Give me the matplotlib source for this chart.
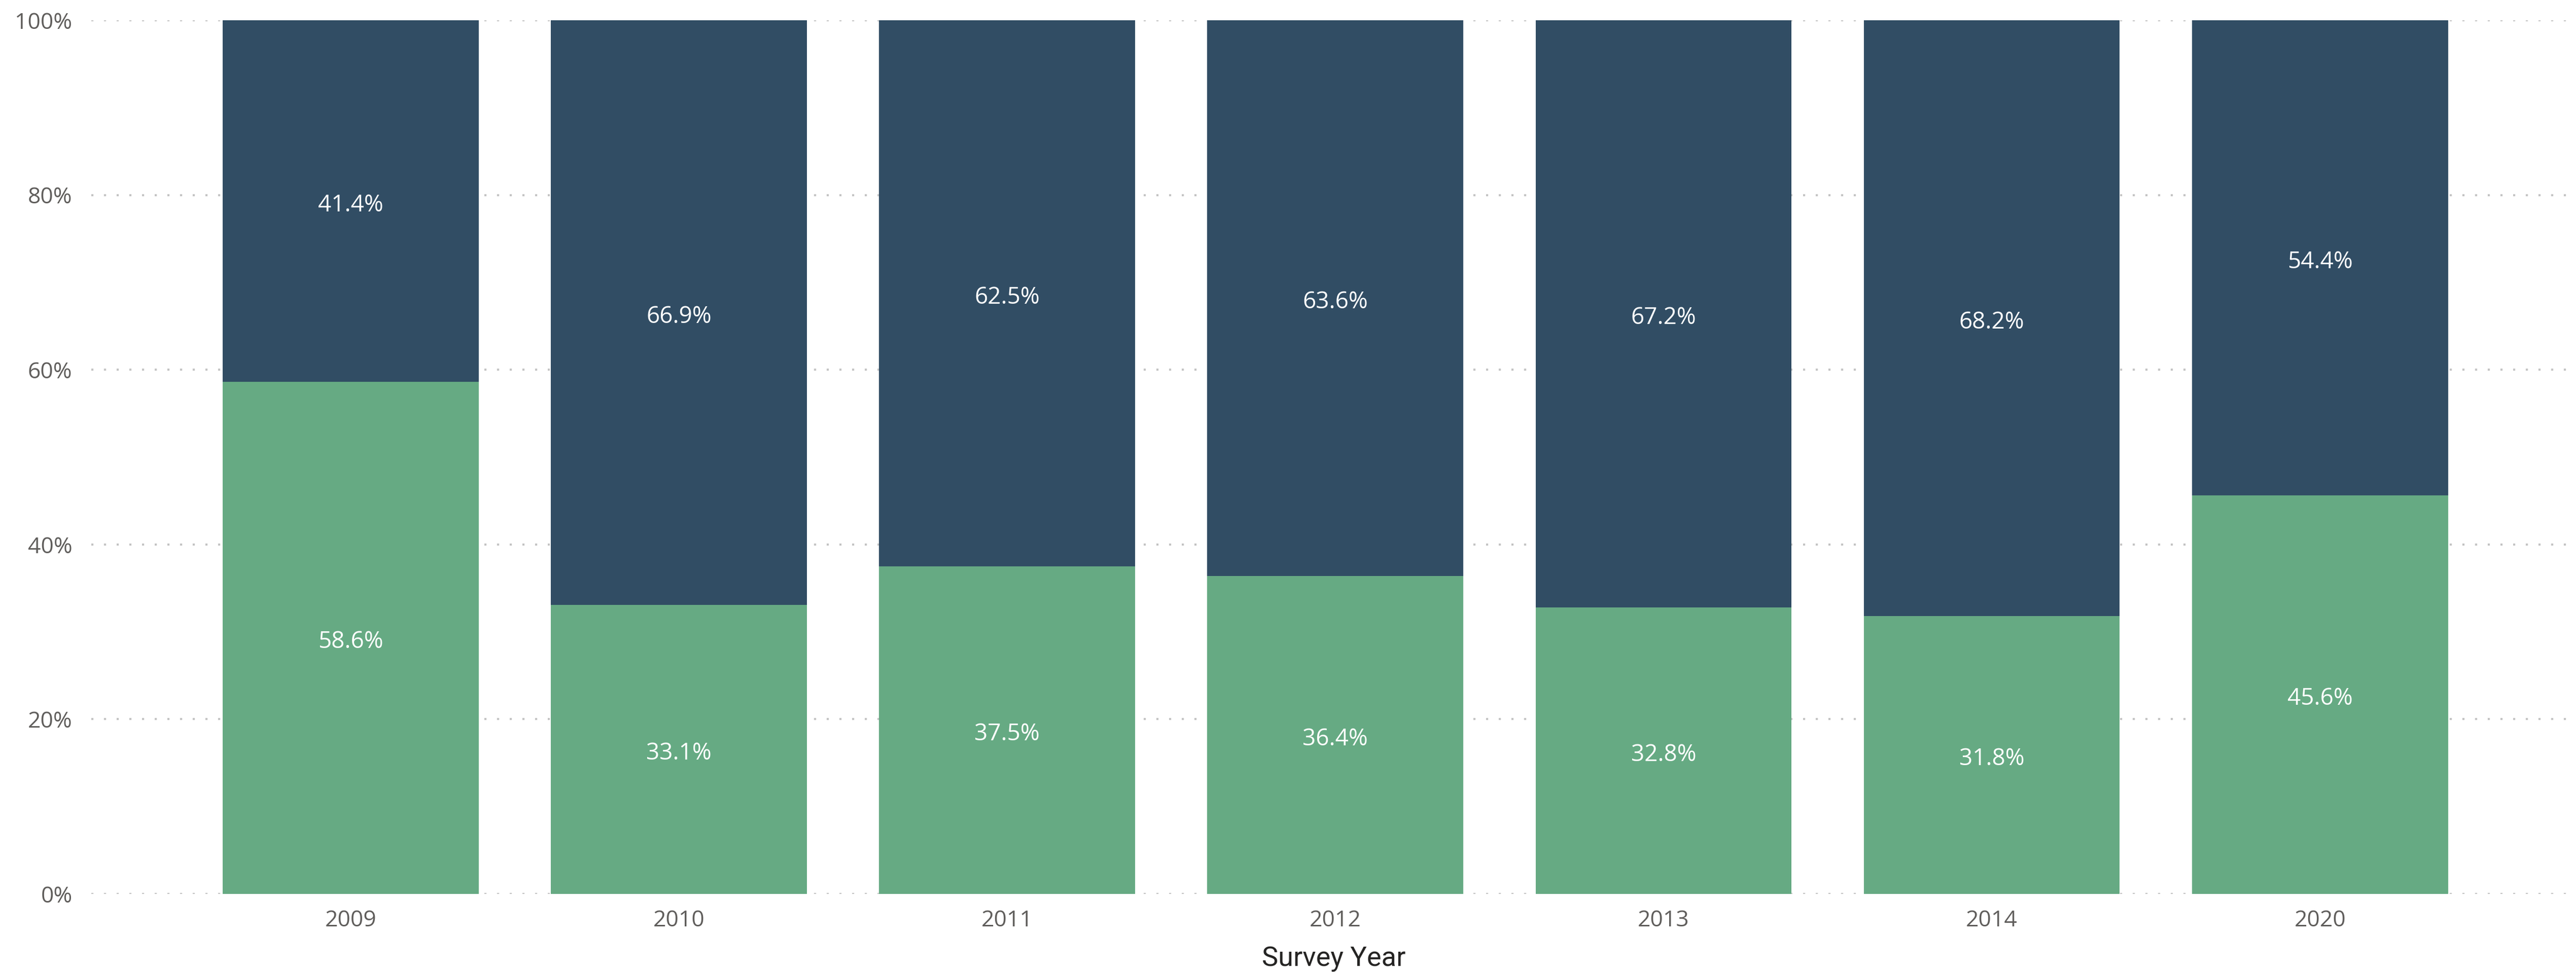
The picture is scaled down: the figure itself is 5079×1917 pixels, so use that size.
import matplotlib
matplotlib.use("Agg")
import matplotlib.pyplot as plt
import numpy as np

years = ["2009", "2010", "2011", "2012", "2013", "2014", "2020"]
green_vals = [58.6, 33.1, 37.5, 36.4, 32.8, 31.8, 45.6]
navy_vals = [41.4, 66.9, 62.5, 63.6, 67.2, 68.2, 54.4]
y_ticks = [0, 20, 40, 60, 80, 100]
y_tick_labels = ["0%", "20%", "40%", "60%", "80%", "100%"]

GREEN = "#66AA83"
NAVY = "#314D64"

W, H = 5079, 1917
fig = plt.figure(figsize=(W / 100, H / 100), dpi=100)
left, right = 180 / W, 5079 / W
bottom, top = 1 - 1763 / H, 1 - 40 / H
ax = fig.add_axes([left, bottom, right - left, top - bottom])

x = np.arange(len(years))
bw = 0.78
ax.bar(x, green_vals, width=bw, color=GREEN, zorder=2)
ax.bar(x, navy_vals, width=bw, bottom=green_vals, color=NAVY, zorder=2)

for xi, g, n in zip(x, green_vals, navy_vals):
    for yc, v in ((g / 2, g), (g + n / 2, n)):
        ax.annotate(f"{v:.1f}%", (xi, yc), xytext=(0, -6), textcoords="offset points",
                    ha="center", va="center", color="white",
                    fontsize=33, family="Open Sans", zorder=3)

ax.set_xlim(-0.79, len(years) - 1 + 0.78)
ax.set_ylim(0, 100)
ax.set_yticks(y_ticks)
ax.set_yticklabels(y_tick_labels)
ax.set_xticks(x)
ax.set_xticklabels(years)

for s in ax.spines.values():
    s.set_visible(False)
ax.tick_params(axis="both", length=0, labelsize=32, labelcolor="#605E5C")
ax.tick_params(axis="y", pad=27)
ax.tick_params(axis="x", pad=22)
for lbl in ax.get_xticklabels() + ax.get_yticklabels():
    lbl.set_family("Open Sans")

ax.set_axisbelow(True)
ax.yaxis.grid(True, color="#C4C4C4", linewidth=3, linestyle=(0, (1, 5)))
ax.xaxis.grid(False)

ax.set_xlabel("Survey Year", fontsize=39, family="Roboto", color="#252423", labelpad=20)

fig.savefig("out.png", dpi=100, facecolor="white")
